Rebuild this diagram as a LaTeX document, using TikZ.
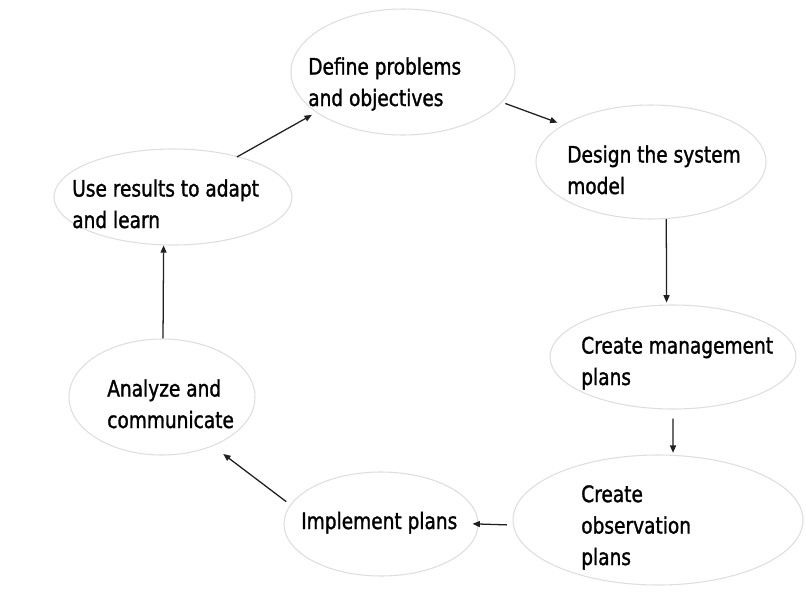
\documentclass[tikz,border=0pt]{standalone}
\usepackage{fontspec}
\setmainfont[FakeStretch=0.91,FakeBold=1.3]{DejaVu Sans Condensed}
\usetikzlibrary{shapes.geometric,arrows.meta}
\begin{document}
\begin{tikzpicture}[x=0.75pt,y=-0.75pt,
  el/.style 2 args={draw=black!13, line width=0.8pt, ellipse, inner sep=0pt, minimum width={#1*0.75pt}, minimum height={#2*0.75pt}},
  lbl/.style={anchor=base west, align=left, inner sep=0pt, font=\fontsize{17}{23.6}\selectfont, text=black},
  arr/.style={draw=black!88, line width=0.95pt, -{Triangle[length=5.5pt,width=4.5pt]}}]
\useasboundingbox (0,0) rectangle (806,600);
\node[el={224}{126}] (e1) at (403,72) {};
\node[el={230}{114}] (e2) at (651,162) {};
\node[el={246}{104}] (e3) at (673,357) {};
\node[el={290}{130}] (e4) at (658,520) {};
\node[el={194}{104}] (e5) at (381,524) {};
\node[el={186}{116}] (e6) at (162,397) {};
\node[el={238}{96}] (e7) at (173,197) {};
\node[lbl] (t1) at (308,106) {Define problems\\and objectives};
\node[lbl] (t2) at (567,194) {Design the system\\model};
\node[lbl] (t3) at (581,385) {Create management\\plans};
\node[lbl] (t4) at (581,565) {Create\\observation\\plans};
\node[lbl] (t5) at (301,529) {Implement plans};
\node[lbl] (t6) at (107,428) {Analyze and\\communicate};
\node[lbl] (t7) at (72,228) {Use results to adapt\\and learn};
\draw[arr, shorten <=2.7pt, shorten >=4.5pt] (e1.-17) -- (e2.157.5);
\draw[arr, shorten >=1.5pt] (e2.-75) -- (e3.97.4);
\draw[arr, shorten <=6.75pt, shorten >=1.5pt] (e3.south) -- (e4.77.4);
\draw[arr, shorten <=4.5pt, shorten >=-4.5pt] (e4.-178.8) -- (e5.0.6);
\draw[arr, shorten <=3.75pt, shorten >=9.75pt] (e5.168.8) -- (e6.-44);
\draw[arr] (e6.89) -- (e7.-101.8);
\draw[arr, shorten <=-1pt, shorten >=3.75pt] (e7.32.8) -- (e1.205.5);
\end{tikzpicture}
\end{document}
